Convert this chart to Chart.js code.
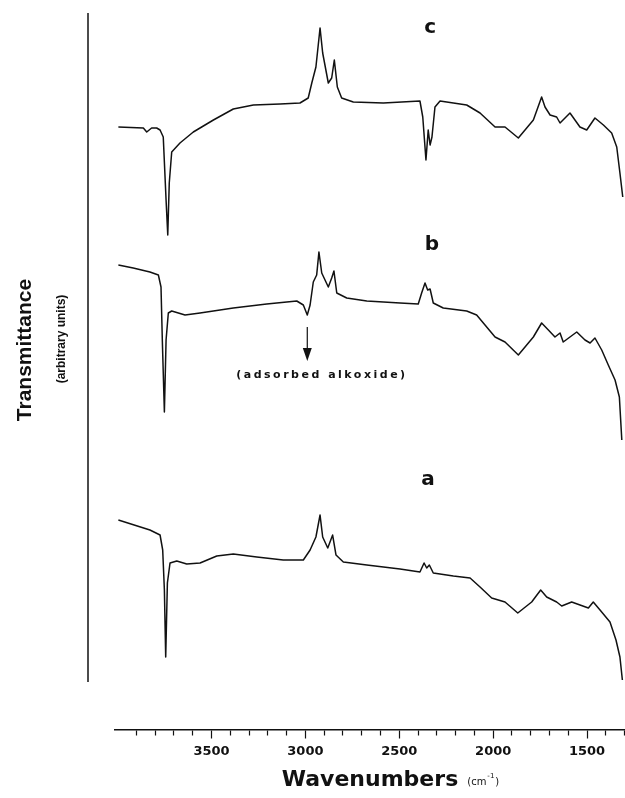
<!DOCTYPE html>
<html>
<head>
<meta charset="utf-8">
<script src="https://cdn.jsdelivr.net/npm/chart.js@4.4.1/dist/chart.umd.min.js"></script>
<style>
  html, body { margin: 0; padding: 0; background: #fff; }
  #wrap { width: 625px; height: 798px; }
</style>
</head>
<body>
<div id="wrap"><canvas id="ir-grafica"></canvas></div>
<script>
// espectros IR: numero de onda (cm-1) y transmitancia (unidades arbitrarias)
const waveC = [3996, 3863, 3845, 3819, 3792, 3774, 3757, 3742, 3733, 3725, 3712, 3668, 3597, 3490, 3384, 3277, 3135, 3029, 2985, 2966, 2944, 2922, 2908, 2878, 2860, 2846, 2830, 2807, 2745, 2585, 2390, 2375, 2358, 2346, 2336, 2326, 2310, 2283, 2212, 2141, 2070, 1990, 1937, 1866, 1786, 1742, 1724, 1697, 1662, 1644, 1591, 1538, 1502, 1458, 1413, 1369, 1342, 1325, 1310];
const transC = [60.3, 60.2, 59.8, 60.2, 60.2, 60.0, 59.3, 53.0, 49.5, 54.7, 57.8, 58.7, 59.8, 61.0, 62.1, 62.5, 62.6, 62.7, 63.2, 64.7, 66.3, 70.2, 67.7, 64.7, 65.2, 67.0, 64.3, 63.2, 62.8, 62.7, 62.9, 61.3, 57.0, 60.0, 58.5, 59.3, 62.3, 62.9, 62.7, 62.5, 61.7, 60.3, 60.3, 59.2, 61.0, 63.3, 62.3, 61.5, 61.3, 60.7, 61.7, 60.3, 60.0, 61.2, 60.5, 59.7, 58.3, 55.7, 53.3];

const waveB = [3996, 3917, 3828, 3783, 3769, 3762, 3751, 3742, 3730, 3712, 3641, 3561, 3384, 3206, 3046, 3011, 2990, 2975, 2958, 2940, 2928, 2913, 2878, 2860, 2848, 2833, 2780, 2673, 2496, 2399, 2381, 2363, 2349, 2336, 2319, 2266, 2141, 2088, 1990, 1937, 1866, 1786, 1742, 1706, 1671, 1644, 1627, 1555, 1511, 1484, 1458, 1422, 1387, 1351, 1328, 1315];
const transB = [46.5, 46.2, 45.8, 45.5, 44.3, 39.0, 31.8, 39.0, 41.7, 41.9, 41.5, 41.7, 42.2, 42.6, 42.9, 42.5, 41.5, 42.5, 44.8, 45.5, 47.8, 45.7, 44.3, 45.2, 45.9, 43.7, 43.2, 42.9, 42.7, 42.6, 43.7, 44.7, 44.0, 44.1, 42.7, 42.2, 41.9, 41.5, 39.3, 38.8, 37.5, 39.3, 40.7, 40.0, 39.3, 39.7, 38.8, 39.8, 39.0, 38.7, 39.2, 38.0, 36.5, 35.0, 33.3, 29.0];

const waveA = [3996, 3828, 3774, 3760, 3751, 3744, 3735, 3721, 3685, 3632, 3561, 3472, 3384, 3259, 3118, 3011, 2975, 2944, 2922, 2908, 2881, 2855, 2837, 2798, 2673, 2496, 2390, 2368, 2354, 2340, 2319, 2212, 2123, 2070, 2008, 1937, 1869, 1795, 1747, 1715, 1662, 1635, 1582, 1493, 1467, 1431, 1378, 1346, 1325, 1312];
const transA = [21.0, 20.0, 19.5, 18.0, 14.0, 7.3, 14.7, 16.7, 16.9, 16.6, 16.7, 17.4, 17.6, 17.3, 17.0, 17.0, 18.0, 19.3, 21.5, 19.3, 18.2, 19.5, 17.5, 16.8, 16.5, 16.1, 15.8, 16.7, 16.2, 16.5, 15.7, 15.4, 15.2, 14.3, 13.2, 12.8, 11.7, 12.8, 14.0, 13.3, 12.8, 12.4, 12.8, 12.2, 12.8, 12.0, 10.8, 9.0, 7.3, 5.0];

// etiquetas del eje x
const tickLabels = [3500, 3000, 2500, 2000, 1500];

// letras de cada espectro y nota de la banda del alcoxido (coordenadas de datos)
const letras = [
    { text: 'c', x: 2336, y: 70.2 },
    { text: 'b', x: 2326, y: 48.5 },
    { text: 'a', x: 2347, y: 25.0 }
];
const nota = { text: '(adsorbed alkoxide)', x: 2912, y: 35.5, flecha: 2990, desde: 40.3, hasta: 36.9 };

const negro = '#111';
const tituloPad = { top: 7, bottom: 5 };
const tituloSize = 22;

//junta los arrays en puntos {x, y}
const puntos = (ws, ts) => ws.map((w, i) => ({ x: w, y: ts[i] }));

//dibuja titulos y notas que chart.js no trae
const anotaciones = {
    id: 'anotaciones',
    afterDraw(chart) {
        const { ctx, chartArea, scales: { x, y } } = chart;
        ctx.save();
        ctx.fillStyle = negro;
        ctx.strokeStyle = negro;

        // eje vertical suelto (sin marcas)
        ctx.lineWidth = 1.5;
        const ejeX = chartArea.left - 27;
        ctx.beginPath();
        ctx.moveTo(ejeX, chartArea.top + 3);
        ctx.lineTo(ejeX, y.getPixelForValue(4.8));
        ctx.stroke();

        // titulo del eje y
        ctx.textAlign = 'center';
        ctx.textBaseline = 'middle';
        ctx.save();
        ctx.translate(chartArea.left - 90, y.getPixelForValue(38));
        ctx.rotate(-Math.PI / 2);
        ctx.font = 'bold 21px "Liberation Sans"';
        ctx.fillText('Transmittance', 0, 0);
        ctx.restore();
        ctx.save();
        ctx.translate(chartArea.left - 53, y.getPixelForValue(39.1));
        ctx.rotate(-Math.PI / 2);
        ctx.font = 'bold 12px "Liberation Sans"';
        ctx.fillText('(arbitrary units)', 0, 0);
        ctx.restore();

        // unidades junto al titulo del eje x
        ctx.font = 'bold ' + tituloSize + 'px "DejaVu Sans"';
        const anchoTitulo = ctx.measureText(x.options.title.text).width;
        const medioY = x.bottom - tituloPad.bottom - tituloSize * 1.2 / 2;
        let cx = (x.left + x.right) / 2 + anchoTitulo / 2 + 9;
        ctx.textAlign = 'left';
        ctx.font = '10px "DejaVu Sans"';
        ctx.fillText('(cm', cx, medioY + 3);
        cx += ctx.measureText('(cm').width + 1;
        ctx.font = '7px "DejaVu Sans"';
        ctx.fillText('-1', cx, medioY - 4);
        cx += ctx.measureText('-1').width + 1;
        ctx.font = '10px "DejaVu Sans"';
        ctx.fillText(')', cx, medioY + 3);

        // letras a, b, c
        ctx.textAlign = 'center';
        ctx.font = 'bold 20px "DejaVu Sans"';
        letras.forEach(l => ctx.fillText(l.text, x.getPixelForValue(l.x), y.getPixelForValue(l.y)));

        // flecha y nota
        const fx = x.getPixelForValue(nota.flecha);
        const y0 = y.getPixelForValue(nota.desde);
        const y1 = y.getPixelForValue(nota.hasta);
        ctx.lineWidth = 1.2;
        ctx.beginPath();
        ctx.moveTo(fx, y0);
        ctx.lineTo(fx, y1 - 8);
        ctx.stroke();
        ctx.beginPath();
        ctx.moveTo(fx - 4.5, y1 - 13);
        ctx.lineTo(fx + 4.5, y1 - 13);
        ctx.lineTo(fx, y1);
        ctx.closePath();
        ctx.fill();

        ctx.font = 'bold 11px "DejaVu Sans"';
        ctx.letterSpacing = '2.5px';
        ctx.fillText(nota.text, x.getPixelForValue(nota.x), y.getPixelForValue(nota.y));
        ctx.restore();
    }
};

const linea = (ws, ts) => ({
    data: puntos(ws, ts),
    borderColor: negro,
    borderWidth: 1.5,
    borderJoinStyle: 'round',
    pointRadius: 0,
    tension: 0,
    fill: false
});

new Chart(document.getElementById('ir-grafica'), {
    type: 'line',
    data: {
        datasets: [linea(waveC, transC), linea(waveB, transB), linea(waveA, transA)]
    },
    options: {
        responsive: true,
        maintainAspectRatio: false,
        animation: false,
        layout: { padding: { left: 115, top: 10, right: 0, bottom: 0 } },
        scales: {
            x: {
                type: 'linear',
                reverse: true,
                min: 1298,
                max: 4014,
                border: { display: true, color: negro, width: 1.5 },
                grid: {
                    drawOnChartArea: false,
                    //la marca larga deja hueco hasta la etiqueta; el trazo visible lo corta el dash
                    tickLength: 14,
                    tickWidth: 1.2,
                    tickBorderDash: ctx => tickLabels.includes(ctx.tick && ctx.tick.value) ? [8, 40] : [5, 40],
                    tickColor: ctx => (ctx.tick && ctx.tick.value > 3950) ? 'rgba(0,0,0,0)' : negro
                },
                ticks: {
                    stepSize: 100,
                    includeBounds: false,
                    autoSkip: false,
                    maxRotation: 0,
                    padding: 0,
                    color: negro,
                    font: { family: 'DejaVu Sans', size: 13, weight: 'bold' },
                    callback: v => tickLabels.includes(v) ? String(v) : ''
                },
                title: {
                    display: true,
                    text: 'Wavenumbers',
                    color: negro,
                    font: { family: 'DejaVu Sans', size: tituloSize, weight: 'bold' },
                    padding: tituloPad
                }
            },
            y: {
                display: false,
                min: 0,
                max: 72
            }
        },
        plugins: {
            legend: { display: false },
            tooltip: { enabled: false }
        }
    },
    plugins: [anotaciones]
});
</script>
</body>
</html>
